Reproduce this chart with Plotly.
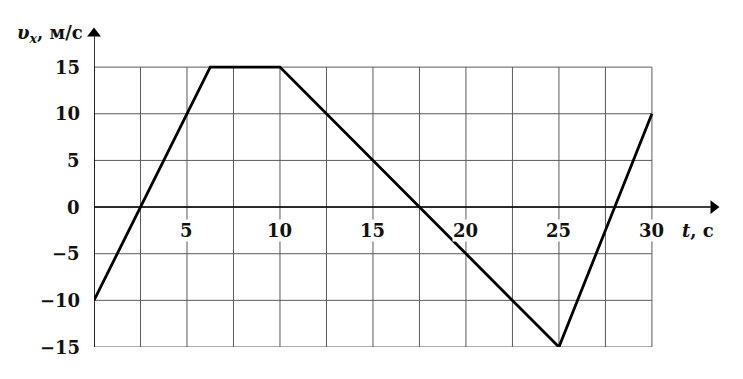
import plotly.graph_objects as go

# Data
t_vals = [0, 6.25, 10, 17.5, 25, 30]
v_vals = [-10, 15, 15, 0, -15, 10]
x_tick_vals = [5, 10, 15, 20, 25, 30]
x_tick_text = ["5", "10", "15", "20", "25", "30"]
y_tick_vals = [15, 10, 5, 0, -5, -10, -15]
y_tick_text = ["15", "10", "5", "0", "−5", "−10", "−15"]
x_grid = [i * 2.5 for i in range(13)]
y_grid = [-15, -10, -5, 0, 5, 10, 15]

X_MAX, Y_MAX = 33.66, 19.3
FONT = "DejaVu Serif"

fig = go.Figure()

# grid lines
gx, gy = [], []
for x in x_grid:
    gx += [x, x, None]
    gy += [-15, 15, None]
for y in y_grid:
    gx += [0, 30, None]
    gy += [y, y, None]
fig.add_trace(go.Scatter(x=gx, y=gy, mode="lines",
                         line=dict(color="#5a5a5a", width=1), hoverinfo="skip"))

# axes lines
fig.add_trace(go.Scatter(x=[0, X_MAX - 0.5], y=[0, 0], mode="lines", cliponaxis=False,
                         line=dict(color="black", width=1.6), hoverinfo="skip"))
fig.add_trace(go.Scatter(x=[0, 0], y=[-15, Y_MAX - 1.0], mode="lines", cliponaxis=False,
                         line=dict(color="black", width=1.6), hoverinfo="skip"))

# arrowheads
fig.add_trace(go.Scatter(x=[X_MAX - 0.35], y=[0], mode="markers", cliponaxis=False,
                         marker=dict(symbol="triangle-right", size=12, color="black",
                                     line=dict(width=0)),
                         hoverinfo="skip"))
fig.add_trace(go.Scatter(x=[0], y=[Y_MAX - 0.7], mode="markers", cliponaxis=False,
                         marker=dict(symbol="triangle-up", size=12, color="black",
                                     line=dict(width=0)),
                         hoverinfo="skip"))

# data line
fig.add_trace(go.Scatter(x=t_vals, y=v_vals, mode="lines", cliponaxis=False,
                         line=dict(color="black", width=2.8), hoverinfo="skip"))

ann = []
# x tick labels
for v, s in zip(x_tick_vals, x_tick_text):
    ann.append(dict(x=v, y=0, xref="x", yref="y", text="<b>" + s + "</b>", showarrow=False,
                    yshift=-23, xanchor="center", yanchor="middle", bgcolor="white",
                    borderpad=0, font=dict(family=FONT, size=18, color="#111")))
# y tick labels
for v, s in zip(y_tick_vals, y_tick_text):
    ann.append(dict(x=0, y=v, xref="x", yref="y", text="<b>" + s + "</b>", showarrow=False,
                    xshift=-12, xanchor="right", yanchor="middle",
                    font=dict(family=FONT, size=18, color="#111")))

# axis titles
ann.append(dict(x=30, y=0, xref="x", yref="y", text="<b><i>t</i>, c</b>", showarrow=False,
                xshift=28, yshift=-23, xanchor="left", yanchor="middle",
                font=dict(family=FONT, size=18, color="#111")))
ann.append(dict(x=0, y=18.6, xref="x", yref="y", text="<b><i>υ</i><sub><i>x</i></sub>, м/с</b>",
                showarrow=False, xshift=-9, xanchor="right", yanchor="middle",
                font=dict(family=FONT, size=18, color="#111")))

fig.update_layout(
    width=743, height=379,
    margin=dict(l=94, r=23, t=27, b=32),
    paper_bgcolor="white", plot_bgcolor="white",
    showlegend=False,
    xaxis=dict(range=[0, X_MAX], showgrid=False, zeroline=False, showline=False,
               showticklabels=False, ticks=""),
    yaxis=dict(range=[-15, Y_MAX], showgrid=False, zeroline=False, showline=False,
               showticklabels=False, ticks=""),
    annotations=ann,
)

fig.write_html("out.html")
